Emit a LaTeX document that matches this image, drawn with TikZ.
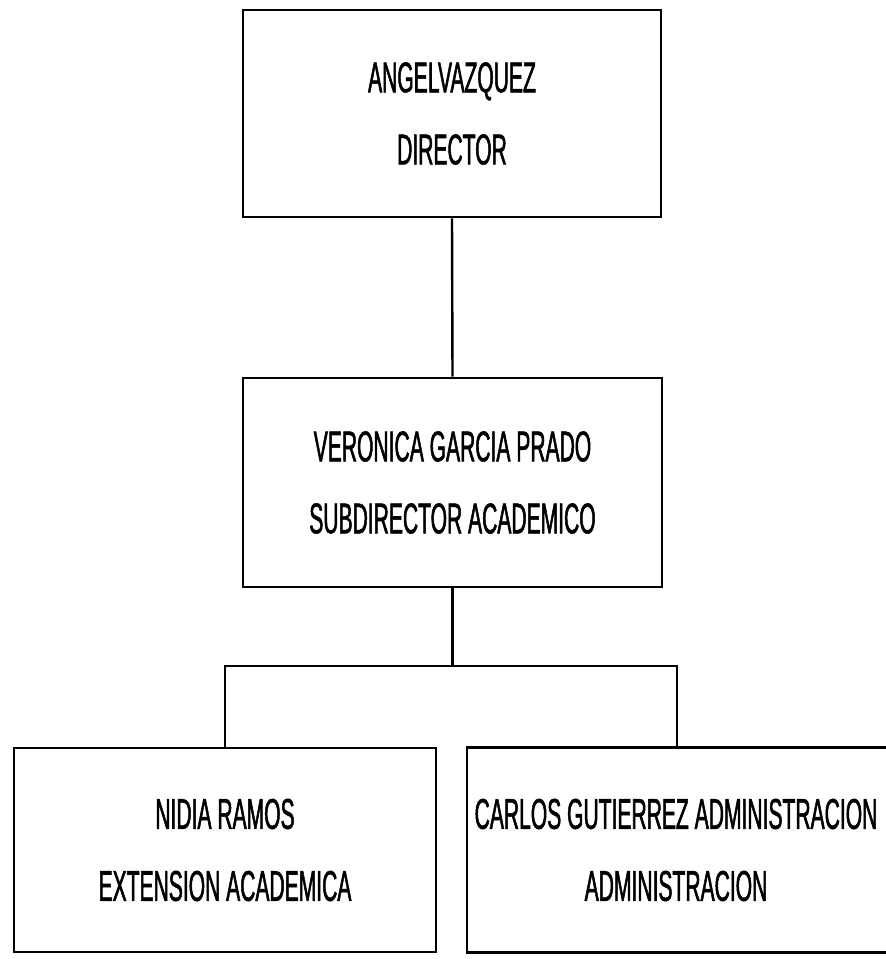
\documentclass[tikz,border=0pt]{standalone}
\usepackage{fontspec}
\setmainfont[FakeStretch=0.49,FakeBold=1.2]{Liberation Sans}
\begin{document}
\begin{tikzpicture}[x=1pt,y=-1pt,
  orgbox/.style={draw=black, line width=2.6pt, rectangle, align=center,
    inner sep=0pt, font=\fontsize{43}{72}\selectfont},
  orgtext/.style={align=center, inner sep=0pt, font=\fontsize{43}{72}\selectfont},
  conn/.style={draw=black, line width=2.4pt}]
\useasboundingbox (0,0) rectangle (886,959);
\node[orgbox, minimum width=418pt, minimum height=207pt] (top) at (452,113.5)
  {ANGELVAZQUEZ\\DIRECTOR};
\node[orgbox, minimum width=419pt, minimum height=209pt] (mid) at (452.5,482.5)
  {VERONICA GARCIA PRADO\\SUBDIRECTOR ACADEMICO};
\node[orgbox, minimum width=422pt, minimum height=204pt] (left) at (225,850)
  {NIDIA RAMOS\\EXTENSION ACADEMICA};
\node[orgbox, minimum width=440pt, minimum height=205pt] (right) at (687,850) {};
\node[orgtext] (righttext) at (676,850)
  {CARLOS GUTIERREZ ADMINISTRACION\\ADMINISTRACION};
\coordinate (bus) at (452,666);
\coordinate (rdrop) at (677,666);
\draw[conn] (top.south) -- (mid.north);
\draw[conn] (mid.south) -- (mid.south |- bus);
\draw[conn] (left.north) |- (rdrop) -- (rdrop |- right.north);
\end{tikzpicture}
\end{document}
